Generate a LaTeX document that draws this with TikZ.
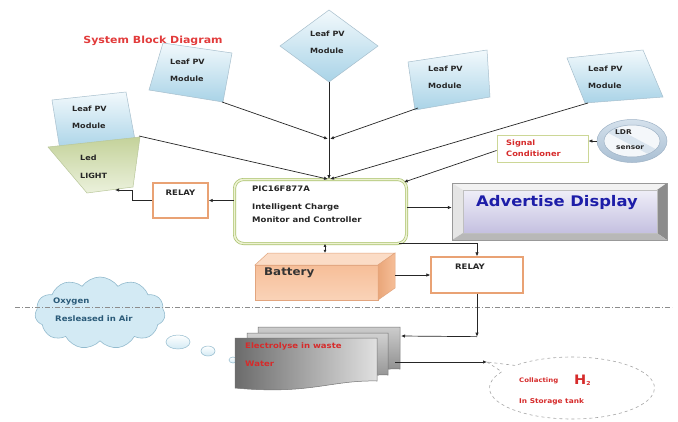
\documentclass[tikz,border=0pt]{standalone}
\usepackage{fontspec}
\setmainfont{DejaVu Sans}[FakeStretch=1.12]
\usetikzlibrary{arrows.meta,shapes.geometric,shapes.symbols,shapes.callouts,calc}

\definecolor{pvtop}{HTML}{F2F9FC}
\definecolor{pvbot}{HTML}{A9D3E7}
\definecolor{pvline}{HTML}{A7BFCD}
\definecolor{ledtop}{HTML}{C4D29A}
\definecolor{ledbot}{HTML}{EBF1DC}
\definecolor{ledline}{HTML}{B9C79A}
\definecolor{picline}{HTML}{A9C16D}
\definecolor{picdbl}{HTML}{EDF2D2}
\definecolor{relayline}{HTML}{E9A274}
\definecolor{sigline}{HTML}{CCD796}
\definecolor{txtred}{HTML}{D62B2B}
\definecolor{titlered}{HTML}{E23B3B}
\definecolor{advblue}{HTML}{1D1DA8}
\definecolor{advtop}{HTML}{EFEEF8}
\definecolor{advbot}{HTML}{C4C0E0}
\definecolor{battop}{HTML}{FBDCC6}
\definecolor{batfront}{HTML}{F6BE98}
\definecolor{batfrontlo}{HTML}{FAD3B8}
\definecolor{batside}{HTML}{E9A679}
\definecolor{batline}{HTML}{E2A57E}
\definecolor{cloudfill}{HTML}{D3EAF4}
\definecolor{cloudline}{HTML}{93BBCE}
\definecolor{cloudtxt}{HTML}{2A5A78}
\definecolor{ldrtop}{HTML}{D5E1EC}
\definecolor{ldrbot}{HTML}{A9BFD3}
\definecolor{ldrline}{HTML}{9FB3C6}
\definecolor{ldrin}{HTML}{F4F7FA}
\definecolor{ldrbar}{HTML}{D9E4EE}
\definecolor{wire}{HTML}{262626}

\begin{document}
\begin{tikzpicture}[x=1pt,y=-1pt,
  arr/.style={draw=wire, line width=0.7pt, -{Latex[length=4pt,width=3.4pt]}},
  pvtext/.style={font=\bfseries\fontsize{7.2}{17}\selectfont, inner sep=0pt, align=left, text=black!85, anchor=west},
  smalltext/.style={font=\bfseries\fontsize{7.6}{8}\selectfont, inner sep=0pt, anchor=west, text=black!85},
  redtext/.style={font=\bfseries\fontsize{7}{8}\selectfont, inner sep=0pt, anchor=west, text=txtred},
  relaybox/.style={draw=relayline, line width=1.3pt, fill=white, inner sep=0pt},
  pvshape/.style={top color=pvtop, bottom color=pvbot, draw=pvline, line width=0.5pt},
  bubble/.style={top color=white, bottom color=cloudfill, draw=cloudline, line width=0.5pt},
  sheet/.style={draw=black!55, line width=0.5pt}]

\useasboundingbox (0,0) rectangle (678,421);
\fill[white] (0,0) rectangle (678,421);

% ---------- title ----------
\node[font=\bfseries\fontsize{9.8}{11}\selectfont, text=titlered] (title) at (153,41) {System Block Diagram};

% ---------- leaf PV modules ----------
\shadedraw[pvshape] (52,100) -- (126,92) -- (136,145) -- (60,150) -- cycle;
\node[pvtext] (m1) at (72,117.5) {Leaf PV\\Module};
\shadedraw[pvshape] (163,43) -- (232,53) -- (223,102) -- (149,90) -- cycle;
\node[pvtext] (m2) at (170,70.5) {Leaf PV\\Module};
\shadedraw[pvshape] (280,46) -- (329,10) -- (378,46) -- (329,82) -- cycle;
\node[pvtext] (m3) at (310,42.5) {Leaf PV\\Module};
\shadedraw[pvshape] (408,62) -- (487,50) -- (490,97) -- (415,110) -- cycle;
\node[pvtext] (m4) at (428,77.5) {Leaf PV\\Module};
\shadedraw[pvshape] (567,58) -- (643,50) -- (663,97) -- (585,103) -- cycle;
\node[pvtext] (m5) at (588,77.5) {Leaf PV\\Module};

\coordinate (m1o) at (139,136);
\coordinate (m2o) at (222,102);
\coordinate (m3o) at (329,82);
\coordinate (m4o) at (418,108);
\coordinate (m5o) at (588,103);

% ---------- LED light ----------
\shadedraw[top color=ledtop, bottom color=ledbot, draw=ledline, line width=0.5pt]
  (48,147) -- (140,137) -- (133,187) -- (87,193) -- cycle;
\node[font=\bfseries\fontsize{7.2}{18}\selectfont, inner sep=0pt, align=left, anchor=west, text=black!85] (led) at (80,167) {Led\\LIGHT};
\coordinate (ledin) at (115,190);

% ---------- controller ----------
\node[draw=picline, double=picdbl, double distance=1.6pt, line width=0.7pt, rounded corners=9pt,
      fill=white, minimum width=172pt, minimum height=64pt, inner sep=0pt] (pic) at (320.5,211.5) {};
\node[smalltext] (pic1) at (252,189) {PIC16F877A};
\node[smalltext] (pic2) at (252,207.5) {Intelligent Charge};
\node[smalltext] (pic3) at (252,219.5) {Monitor and Controller};

% ---------- relays ----------
\node[relaybox, minimum width=55pt, minimum height=35pt] (relay1) at (180.5,200.5) {};
\node[smalltext, anchor=center] at ($(relay1.north)+(0,10)$) {RELAY};
\node[relaybox, minimum width=92pt, minimum height=36pt] (relay2) at (477,275) {};
\node[smalltext, anchor=center] at ($(relay2.north)+(-7,10)$) {RELAY};

% ---------- advertise display ----------
\node[minimum width=215pt, minimum height=57pt, inner sep=0pt] (adv) at (559.5,211.5) {};
\fill[black!5] (452,183) -- (667,183) -- (657,190) -- (463,190) -- cycle;
\fill[black!10] (452,183) -- (463,190) -- (463,233) -- (452,240) -- cycle;
\fill[black!45] (667,183) -- (667,240) -- (657,233) -- (657,190) -- cycle;
\fill[black!28] (452,240) -- (667,240) -- (657,233) -- (463,233) -- cycle;
\shade[top color=advtop, bottom color=advbot] (463,190) rectangle (657,233);
\draw[black!40, line width=0.5pt] (452,183) rectangle (667,240);
\draw[black!25, line width=0.4pt] (463,190) rectangle (657,233);
\node[font=\bfseries\fontsize{14.6}{16}\selectfont, text=advblue] (advtxt) at (557,202.5) {Advertise Display};

% ---------- signal conditioner and LDR ----------
\node[draw=sigline, line width=0.9pt, fill=white, minimum width=91pt, minimum height=27pt, inner sep=0pt] (sig) at (542.5,148.5) {};
\node[redtext, font=\bfseries\fontsize{7.4}{8}\selectfont] at (506,143) {Signal};
\node[redtext, font=\bfseries\fontsize{7.4}{8}\selectfont] at (506,154) {Conditioner};

\node[ellipse, minimum width=70pt, minimum height=43pt, inner sep=0pt] (ldr) at (632,141) {};
\fill[ldrin] (632,141) ellipse (28 and 16);
\begin{scope}
  \clip (632,141) ellipse (28 and 16);
  \fill[ldrbar, rotate around={-28:(632,141)}] (598,137) rectangle (666,145);
\end{scope}
\shadedraw[even odd rule, top color=ldrtop, bottom color=ldrbot, draw=ldrline, line width=0.5pt]
  (632,141) ellipse (35 and 21.5) (632,141) ellipse (28 and 16);
\node[smalltext, font=\bfseries\fontsize{6.6}{7}\selectfont] at (615,132) {LDR};
\node[smalltext, font=\bfseries\fontsize{6.6}{7}\selectfont] at (616,148) {sensor};

% ---------- battery ----------
\node[minimum width=140pt, minimum height=47pt, inner sep=0pt] (bat) at (325,276.5) {};
\shadedraw[top color=batfront, bottom color=batfrontlo, draw=batline, line width=0.5pt] (255,265) rectangle (378,300);
\filldraw[fill=battop, draw=batline, line width=0.5pt] (255,265) -- (268,253) -- (395,253) -- (378,265) -- cycle;
\shadedraw[left color=batside, right color=batfront, draw=batline, line width=0.5pt] (378,265) -- (395,253) -- (395,288) -- (378,300) -- cycle;
\node[font=\bfseries\fontsize{10.6}{12}\selectfont, inner sep=0pt, anchor=west, text=black!80] (battxt) at (264,273) {Battery};

% ---------- oxygen cloud ----------
\node[cloud, cloud puffs=11, cloud puff arc=110, cloud ignores aspect, minimum width=130pt, minimum height=72pt,
      fill=cloudfill, draw=cloudline, line width=0.6pt] (oxy) at (100,313) {};
\shadedraw[bubble] (178,342) ellipse (12 and 7);
\shadedraw[bubble] (208,351) ellipse (7 and 5);
\shadedraw[bubble] (233,360) ellipse (4 and 3);
\node[smalltext, text=cloudtxt] at (53,301) {Oxygen};
\node[smalltext, text=cloudtxt] at (55,319) {Resleased in Air};

% separator between the two stages
\draw[black!45, line width=0.6pt, dash pattern=on 5pt off 2pt on 1pt off 2pt] (15,307) -- (672,307);

% ---------- electrolysis stack ----------
\shadedraw[sheet, top color=black!20, bottom color=black!50]
  (258,327) -- (400,327) -- (400,369) .. controls (350,368) and (330,382) .. (258,376) -- cycle;
\shadedraw[sheet, top color=black!18, bottom color=black!48]
  (247,333) -- (388,333) -- (388,375) .. controls (340,374) and (320,388) .. (247,382) -- cycle;
\shadedraw[sheet, left color=black!58, right color=black!12]
  (235,338) -- (377,338) -- (377,381) .. controls (330,380) and (310,395) .. (235,388) -- cycle;
\node[redtext, font=\bfseries\fontsize{7.6}{8}\selectfont] (el1) at (245,346) {Electrolyse in waste};
\node[redtext, font=\bfseries\fontsize{7.6}{8}\selectfont] (el2) at (245,364) {Water};
\coordinate (stkin) at (401,336);
\coordinate (stkout) at (395,362);

% ---------- hydrogen storage ----------
\coordinate (h2tip) at (487,362);
\node[ellipse callout, callout absolute pointer={(h2tip)}, draw=black!35, dashed, line width=0.6pt, fill=white,
      minimum width=165pt, minimum height=62pt, inner sep=0pt] (h2) at (572,388) {};
\node[redtext, font=\bfseries\fontsize{6.2}{7}\selectfont] (h2a) at (519,381) {Collacting};
\node[inner sep=0pt, anchor=west, text=txtred, font=\bfseries\fontsize{13}{14}\selectfont] (h2b) at (574,380)
  {H\raisebox{-1pt}{\fontsize{5.5}{6}\selectfont 2}};
\node[redtext, font=\bfseries\fontsize{6.6}{7}\selectfont] (h2c) at (519,402) {In Storage tank};

% ---------- connectors ----------
\draw[arr] (m3o) -- (m3o |- pic.north);
\draw[arr] (m1o) -- ($(m3o |- pic.north)+(-1,0)$);
\draw[arr] (m5o) -- ($(m3o |- pic.north)+(1,0)$);
\draw[arr] (m2o) -- ($(m3o)+(-1,57)$);
\draw[arr] (m4o) -- ($(m3o)+(1,57)$);

\draw[arr] (ldr.west) -- (ldr.west -| sig.east);
\draw[arr] ($(sig.west)+(0,2)$) -- ($(pic.north east)+(-3,3)$);

\draw[arr] (pic.west |- relay1.east) -- (relay1.east);
\draw[arr] (relay1.west) -| ($(ledin)+(17,0)$) -- (ledin);
\draw[arr] ($(pic.east)+(0,-4)$) -- ($(adv.west)+(0,-4)$);

\draw[draw=wire, line width=0.7pt, {Latex[length=3pt,width=3pt]}-{Latex[length=3pt,width=3pt]}]
  (bat.north |- pic.south) -- (bat.north);
\draw[arr] (bat.east |- relay2.west) -- (relay2.west);
\draw[arr] ($(pic.south east)+(-8,-1)$) -| (relay2.north);

\coordinate (kink) at ($(relay2.south)+(0,43)$);
\draw[arr] (relay2.south) -- (kink);
\draw[arr] (kink) -- (stkin);
\draw[arr] (stkout) -- (h2tip);

\end{tikzpicture}
\end{document}
